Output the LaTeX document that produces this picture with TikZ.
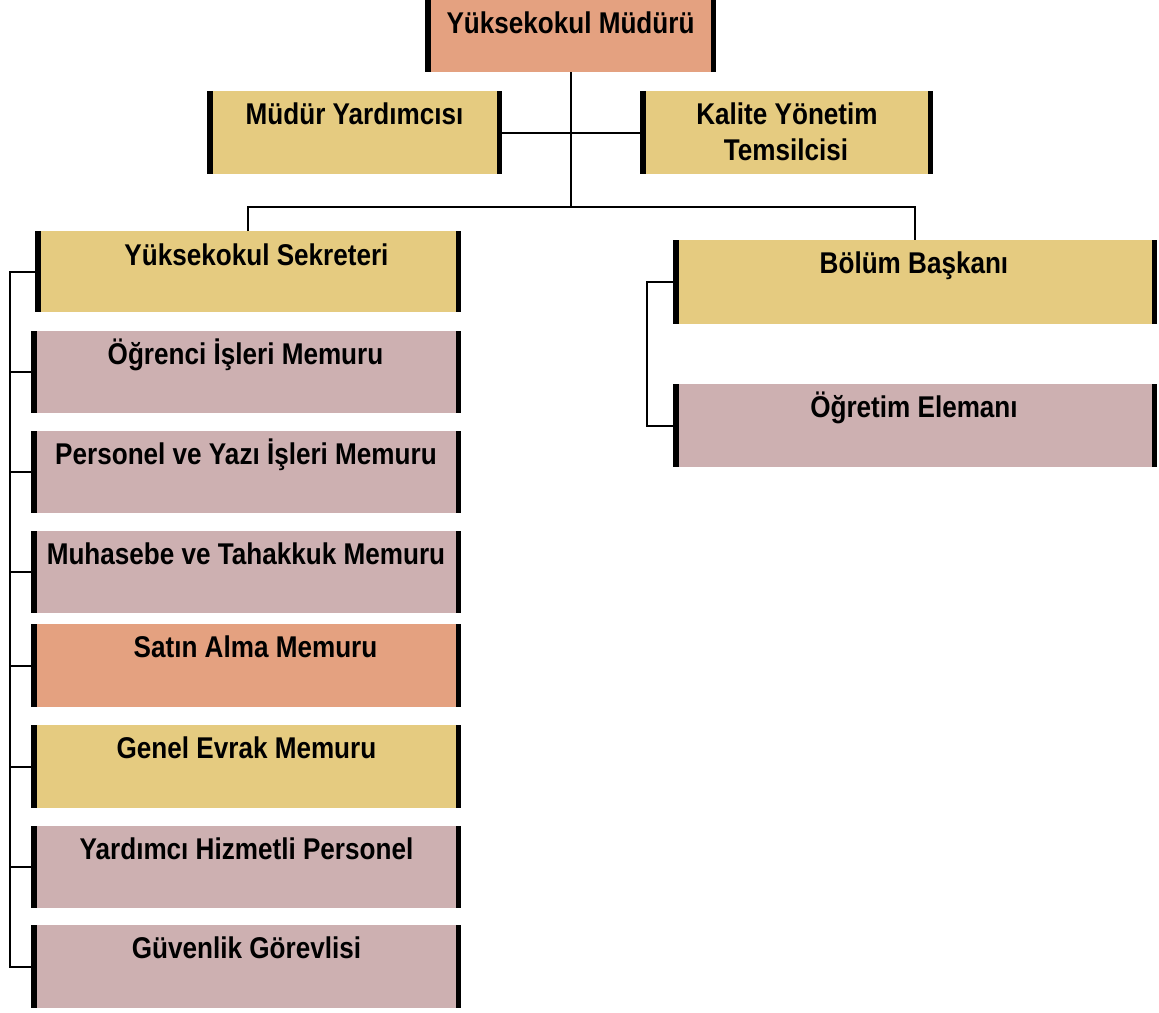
\documentclass[tikz,border=0pt]{standalone}
\usepackage{fontspec}
\setmainfont{Liberation Sans}[FakeStretch=0.87]
\definecolor{csalmon}{RGB}{228,161,128}
\definecolor{cyellow}{RGB}{229,203,128}
\definecolor{cmauve}{RGB}{205,176,177}
\tikzset{
  orgbox/.style={rectangle, inner sep=0pt, outer sep=0pt, draw=none,
    path picture={
      \fill[black] (path picture bounding box.south west) rectangle ([xshift=5.5pt]path picture bounding box.north west);
      \fill[black] ([xshift=-5.5pt]path picture bounding box.south east) rectangle (path picture bounding box.north east);
    }},
  lbl/.style={anchor=base, inner sep=0pt, font=\fontsize{30}{36}\selectfont\bfseries},
  conn/.style={draw=black, line width=2pt}
}
\newcommand{\orgbox}[6]{% name, color, x1, y1, x2, y2
  \node[orgbox, fill=#2, minimum width={#5-#3}, minimum height={#6-#4}] (#1) at ({(#3+#5)/2},{(#4+#6)/2}) {};
}
\begin{document}
\begin{tikzpicture}[x=1pt,y=-1pt]
\useasboundingbox[fill=white] (0,0) rectangle (1159,1012);
% boxes
\orgbox{mud}{csalmon}{425}{0}{716}{72}
\orgbox{yrd}{cyellow}{207}{91}{502}{174}
\orgbox{kal}{cyellow}{640}{91}{933}{174}
\orgbox{sek}{cyellow}{35}{231}{461}{312}
\orgbox{ogi}{cmauve}{31}{331}{461}{413}
\orgbox{per}{cmauve}{31}{431}{461}{513}
\orgbox{muh}{cmauve}{31}{531}{461}{613}
\orgbox{sat}{csalmon}{31}{624}{461}{707}
\orgbox{gen}{cyellow}{31}{725}{461}{808}
\orgbox{yhp}{cmauve}{31}{826}{461}{908}
\orgbox{guv}{cmauve}{31}{925}{461}{1008}
\orgbox{bol}{cyellow}{673}{240}{1157}{324}
\orgbox{oge}{cmauve}{673}{384}{1157}{467}
% labels
\node[lbl] (tmud) at (570.5,33) {Yüksekokul Müdürü};
\node[lbl] (tyrd) at (354.5,124) {Müdür Yardımcısı};
\node[lbl] (tkal1) at (787,124) {Kalite Yönetim};
\node[lbl] (tkal2) at (786,160) {Temsilcisi};
\node[lbl] (tsek) at (256.5,265) {Yüksekokul Sekreteri};
\node[lbl] (togi) at (245.5,364) {Öğrenci İşleri Memuru};
\node[lbl] (tper) at (246,464) {Personel ve Yazı İşleri Memuru};
\node[lbl] (tmuh) at (246,564) {Muhasebe ve Tahakkuk Memuru};
\node[lbl] (tsat) at (255.5,657) {Satın Alma Memuru};
\node[lbl] (tgen) at (246.5,758) {Genel Evrak Memuru};
\node[lbl] (tyhp) at (246.5,859) {Yardımcı Hizmetli Personel};
\node[lbl] (tguv) at (246.5,958) {Güvenlik Görevlisi};
\node[lbl] (tbol) at (914,273) {Bölüm Başkanı};
\node[lbl] (toge) at (914,417) {Öğretim Elemanı};
% connectors
\coordinate (hb) at (571,207);
\coordinate (lb) at (10,0);
\coordinate (rb) at (647,0);
\draw[conn] (mud.south) -- (mud.south |- hb);
\draw[conn] (yrd.east) -- (kal.west);
\draw[conn] (sek.north) -- (sek.north |- hb) -- (bol.north |- hb) -- (bol.north);
\draw[conn] (sek.west) -- (sek.west -| lb) -- (guv.west -| lb) -- (guv.west);
\foreach \n in {ogi,per,muh,sat,gen,yhp}{
  \draw[conn] (\n.west -| lb) -- (\n.west);
}
\draw[conn] (bol.west) -- (bol.west -| rb) -- (oge.west -| rb) -- (oge.west);
\end{tikzpicture}
\end{document}
